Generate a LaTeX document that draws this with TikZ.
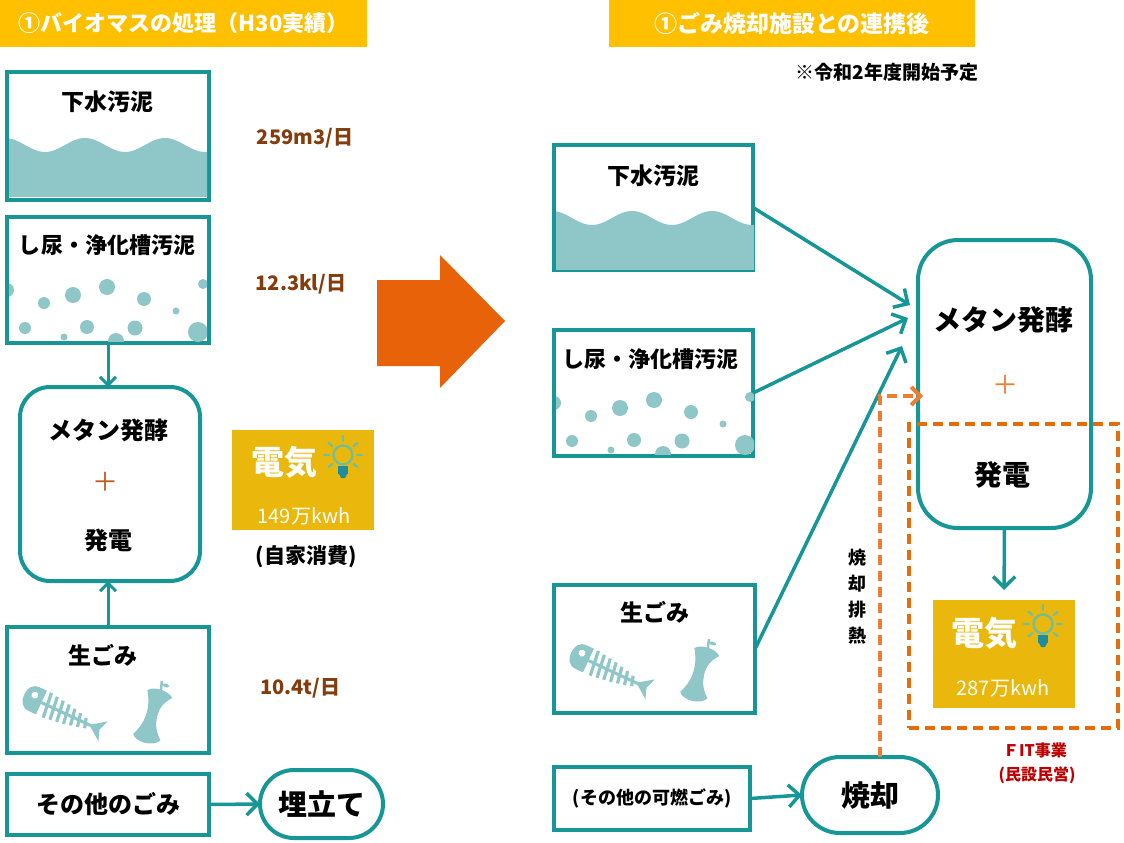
\documentclass[tikz,border=0pt]{standalone}
\usepackage{fontspec}
\setmainfont{Noto Sans CJK JP}
\usetikzlibrary{arrows.meta}
\definecolor{boxteal}{RGB}{22,150,150}
\definecolor{mud}{RGB}{143,199,201}
\definecolor{bannergold}{RGB}{255,192,0}
\definecolor{powergold}{RGB}{234,184,12}
\definecolor{bigorange}{RGB}{232,98,10}
\definecolor{heatorange}{RGB}{237,125,49}
\definecolor{fitorange}{RGB}{228,108,10}
\definecolor{amountbrown}{RGB}{132,60,12}
\definecolor{plusbrown}{RGB}{190,90,30}
\definecolor{fitred}{RGB}{192,0,0}
\definecolor{bulbgreen}{RGB}{110,190,160}
\definecolor{bulbbase}{RGB}{30,140,160}
\tikzset{
    banner/.style = {rectangle, fill=bannergold, text=white, inner sep=0pt, font=\bfseries\fontsize{22}{24}\selectfont},
    srcbox/.style = {rectangle, draw=boxteal, line width=4pt, fill=white, inner sep=0pt, outer sep=0pt},
    procbox/.style = {srcbox, rounded corners=30pt},
    endbox/.style = {srcbox, rounded corners=34pt, font=\bfseries\fontsize{29}{32}\selectfont},
    powerbox/.style = {rectangle, fill=powergold, inner sep=0pt, outer sep=0pt},
    fitarea/.style = {rectangle, draw=fitorange, line width=4pt, dash pattern=on 10pt off 6pt, inner sep=0pt},
    boxtext/.style = {font=\bfseries\fontsize{23}{26}\selectfont, inner sep=0pt},
    fermtext/.style = {font=\bfseries\fontsize{24}{27}\selectfont, inner sep=0pt},
    bigtext/.style = {font=\bfseries\fontsize{28}{31}\selectfont, inner sep=0pt},
    plus/.style = {font=\fontsize{26}{28}\selectfont, inner sep=0pt},
    amount/.style = {text=amountbrown, font=\bfseries\fontsize{20}{22}\selectfont, inner sep=0pt},
    note/.style = {font=\bfseries\fontsize{19}{21}\selectfont, inner sep=0pt},
    fitnote/.style = {text=fitred, font=\bfseries\fontsize{16}{18}\selectfont, inner sep=0pt},
    powerword/.style = {text=white, font=\bfseries\fontsize{33}{36}\selectfont, inner sep=0pt},
    powernum/.style = {text=white, font=\fontsize{20}{22}\selectfont, inner sep=0pt},
    flow/.style = {draw=boxteal, line width=3.5pt, -{Straight Barb[length=11pt,width=22pt]}},
    flowsm/.style = {draw=boxteal, line width=3pt, -{Straight Barb[length=8pt,width=16pt]}},
    heat/.style = {draw=heatorange, line width=4pt, dash pattern=on 10pt off 6pt, -{Straight Barb[length=9pt,width=18pt]}},
    % wavy sludge level
    sludge/.pic = {
        \clip (2,2) rectangle (200,124);
        \fill[mud] (0,130) -- plot[domain=0:202, samples=70] (\x, {73-7*cos(4.5*(\x+2))}) -- (202,130) -- cycle;
    },
    % floating particles
    particles/.pic = {
        \clip (2,2) rectangle (200,124);
        \foreach \px/\py/\pr in {0/73/7, 37/86/6, 66/78/8, 100/70/8, 137/82/7, 169/94/3.5, 196/67/5,
                                 18/111/6, 57/120/3.5, 80/110/7, 109/124/8, 128/111/7.5, 191/115/10}
            \fill[mud] (\px,\py) circle[radius=\pr];
    },
    % fish bone and apple core
    scraps/.pic = {
        \begin{scope}[shift={(29,73)}, rotate=-25, fill=mud, draw=mud]
            \fill (6,-13) -- (-2,-13) .. controls (-10,-13) and (-13,-7) .. (-13,0)
                  .. controls (-13,7) and (-10,13) .. (-2,13) -- (6,13) -- cycle;
            \fill[white] (-3,-4) circle[radius=3.5];
            \draw[line width=3pt] (6,0) -- (62,0);
            \foreach \r/\h in {11/13, 18/12, 25/11, 32/10, 39/8.5, 46/7, 53/5}
                \draw[line width=3.2pt] (\r,-\h) -- (\r+3,\h);
            \fill (59,0) -- (74,-11) -- (70,0) -- (74,11) -- cycle;
        \end{scope}
        \begin{scope}[shift={(146,88)}, rotate=-18, fill=mud, draw=mud]
            \fill (-13,-22) .. controls (-8,-28) and (8,-28) .. (13,-22)
                  .. controls (5,-14) and (3,-6) .. (5,4)
                  .. controls (6,12) and (11,18) .. (15,22)
                  .. controls (9,31) and (-9,31) .. (-13,24)
                  .. controls (-7,14) and (-6,4) .. (-7,-4)
                  .. controls (-8,-12) and (-11,-18) .. (-13,-22) -- cycle;
            \draw[line width=2.5pt] (0,-25) -- (-2,-35);
            \fill (3,-32) ellipse[x radius=3.5, y radius=1.8];
        \end{scope}
    },
    % light bulb
    bulb/.pic = {
        \draw[bulbgreen, line width=2.2pt] (0,0) circle[radius=9.5];
        \fill[bulbbase] (-5,11) rectangle (5,19);
        \fill[bulbbase] (-4,19) -- (4,19) -- (2,23) -- (-2,23) -- cycle;
        \foreach \a in {0,-40,-90,-140,180,40,140}
            \draw[bulbgreen, line width=2.2pt, line cap=round] (\a:14) -- (\a:19);
    }
}
\begin{document}
\begin{tikzpicture}[x=1pt,y=-1pt]
\useasboundingbox (0,0) rectangle (1124,843);
%
\node[banner, minimum width=367pt, minimum height=47pt] at (183.5,23.5) (headL) {①バイオマスの処理（H30実績）};
\node[banner, minimum width=366pt, minimum height=47pt, font=\bfseries\fontsize{23}{25}\selectfont] at (792,23.5) (headR) {①ごみ焼却施設との連携後};
\node[note] at (887,72) (start) {※令和2年度開始予定};
%
% present state
\node[srcbox, minimum width=202pt, minimum height=128pt] at (108,136) (sewL) {};
\node[srcbox, minimum width=202pt, minimum height=126pt] at (108,280) (nightL) {};
\node[procbox, minimum width=180pt, minimum height=194pt] at (110,484) (fermL) {};
\node[srcbox, minimum width=202pt, minimum height=126pt] at (108,690) (garbL) {};
\node[srcbox, minimum width=202pt, minimum height=61pt, font=\bfseries\fontsize{24}{26}\selectfont] at (108,804.5) (othL) {その他のごみ};
\node[endbox, minimum width=123pt, minimum height=68pt] at (321.5,804) (fillL) {埋立て};
\pic at (sewL.north west) {sludge};
\pic at (nightL.north west) {particles};
\pic at (garbL.north west) {scraps};
\node[boxtext] at (107,102) (sewLt) {下水汚泥};
\node[boxtext, font=\bfseries\fontsize{22}{25}\selectfont] at (107,245) (nightLt) {し尿・浄化槽汚泥};
\node[fermtext] at (108,430) (fermLa) {メタン発酵};
\node[plus, text=plusbrown] at (105,482) (fermLb) {＋};
\node[fermtext] at (108,540) (fermLc) {発電};
\node[boxtext] at (103,655) (garbLt) {生ごみ};
\node[amount] at (305,138) (sewLq) {259m3/日};
\node[amount] at (301,284) (nightLq) {12.3kl/日};
\node[amount] at (300,688) (garbLq) {10.4t/日};
\node[powerbox, minimum width=142pt, minimum height=100pt] at (303,480) (elecL) {};
\node[powerword] at (284,462) (elecLw) {電気};
\pic at (343,455) {bulb};
\node[powernum] at (304,516) (elecLn) {149万kwh};
\node[note, font=\bfseries\fontsize{21}{23}\selectfont] at (306,557) (selfuse) {(自家消費)};
%
\draw[flowsm] (nightL.south) -- (nightL.south |- fermL.north);
\draw[flowsm] (garbL.north) -- (garbL.north |- fermL.south);
\draw[flow] (othL.east) -- (fillL.west);
%
% big arrow between the two states
\fill[bigorange] (377,280) -- (440,280) -- (440,255) -- (505,321) -- (440,388) -- (440,366) -- (377,366) -- cycle;
%
% after linking with the incinerator
\node[srcbox, minimum width=199pt, minimum height=125pt] at (653.5,207.5) (sewR) {};
\node[srcbox, minimum width=199pt, minimum height=126pt] at (653.5,393) (nightR) {};
\node[procbox, rounded corners=40pt, minimum width=173pt, minimum height=288pt] at (1004.5,384) (fermR) {};
\node[srcbox, minimum width=201pt, minimum height=128pt] at (654.5,649) (garbR) {};
\node[srcbox, minimum width=196pt, minimum height=63pt, font=\bfseries\fontsize{18}{20}\selectfont] at (652,798.5) (othR) {(その他の可燃ごみ)};
\node[endbox, rounded corners=38pt, minimum width=136pt, minimum height=76pt] at (870,795) (burn) {焼却};
\pic at (sewR.north west) {sludge};
\pic at (nightR.north west) {particles};
\pic at (garbR.north west) {scraps};
\node[boxtext] at (653,176) (sewRt) {下水汚泥};
\node[boxtext, font=\bfseries\fontsize{22}{25}\selectfont] at (650,359) (nightRt) {し尿・浄化槽汚泥};
\node[bigtext] at (1003,320) (fermRa) {メタン発酵};
\node[plus, text=heatorange] at (1005,385) (fermRb) {＋};
\node[bigtext] at (1002,475) (fermRc) {発電};
\node[boxtext] at (655,612) (garbRt) {生ごみ};
\node[powerbox, minimum width=142pt, minimum height=108pt] at (1004,654) (elecR) {};
\node[powerword] at (984,633) (elecRw) {電気};
\pic at (1043,624) {bulb};
\node[powernum] at (1003,688) (elecRn) {287万kwh};
\node[fitarea, minimum width=209pt, minimum height=304pt] at (1013.5,576) (fitbox) {};
\node[fitnote] at (1035,750) (fitA) {ＦIT事業};
\node[fitnote] at (1037,775) (fitB) {(民設民営)};
\node[note, align=center, font=\bfseries\fontsize{18}{26}\selectfont] at (857,597) (exhaust) {焼\\却\\排\\熱};
%
\coordinate (fin1) at (910,305);
\coordinate (fin2) at (908,318);
\coordinate (fin3) at (902,346);
\coordinate (heatin) at (923,396);
\draw[flow] (sewR.east) -- (fin1);
\draw[flow] (nightR.east) -- (fin2);
\draw[flow] (garbR.east) -- (fin3);
\draw[flow] (othR.east) -- (burn.west);
\draw[flow, shorten >=10pt] (fermR.south) -- (elecR.north);
\draw[heat] ([xshift=10pt]burn.north) |- (heatin);
\end{tikzpicture}
\end{document}
